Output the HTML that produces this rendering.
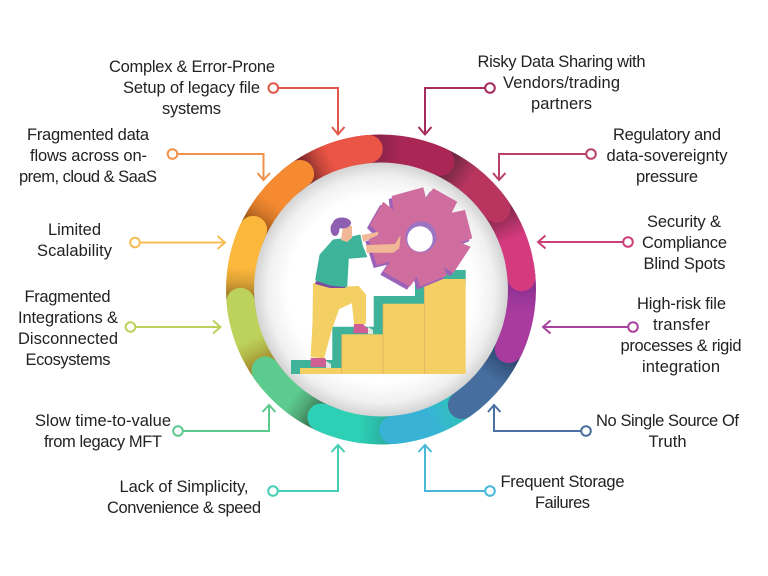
<!DOCTYPE html>
<html><head><meta charset="utf-8"><style>
html,body{margin:0;padding:0;background:#fff;width:768px;height:576px;overflow:hidden}
svg{display:block}
text{font-family:"Liberation Sans",sans-serif;font-size:16.5px;fill:#222;text-anchor:middle}
.c{fill:none;stroke-width:2}
.d{fill:#fff;stroke-width:2}
</style></head><body>
<svg width="768" height="576" viewBox="0 0 768 576" xmlns="http://www.w3.org/2000/svg">
<defs>
<radialGradient id="disc" gradientUnits="userSpaceOnUse" cx="381" cy="289.5" r="129">
<stop offset="0" stop-color="#fff"/><stop offset=".72" stop-color="#fff"/><stop offset=".88" stop-color="#f0f0f0"/><stop offset="1" stop-color="#cfcfcf"/></radialGradient>
<linearGradient id="g0" gradientUnits="userSpaceOnUse" x1="306.3" y1="169.9" x2="330.5" y2="157.9"><stop offset="0" stop-color="#7c2a2c"/><stop offset=".5" stop-color="#c04539"/><stop offset="1" stop-color="#ea5545"/></linearGradient>
<linearGradient id="g1" gradientUnits="userSpaceOnUse" x1="306.3" y1="169.9" x2="330.5" y2="157.9"><stop offset="0" stop-color="#a65a1c"/><stop offset=".5" stop-color="#d87a2a"/><stop offset="1" stop-color="#f58a30"/></linearGradient>
<linearGradient id="g2" gradientUnits="userSpaceOnUse" x1="306.3" y1="169.9" x2="330.5" y2="157.9"><stop offset="0" stop-color="#a8802a"/><stop offset=".5" stop-color="#dca235"/><stop offset="1" stop-color="#fbb83c"/></linearGradient>
<linearGradient id="g3" gradientUnits="userSpaceOnUse" x1="306.3" y1="169.9" x2="330.5" y2="157.9"><stop offset="0" stop-color="#a88a2c"/><stop offset=".5" stop-color="#b0b648"/><stop offset="1" stop-color="#bdd25a"/></linearGradient>
<linearGradient id="g4" gradientUnits="userSpaceOnUse" x1="306.3" y1="169.9" x2="330.5" y2="157.9"><stop offset="0" stop-color="#3f7a58"/><stop offset=".5" stop-color="#50aa78"/><stop offset="1" stop-color="#5ccb8e"/></linearGradient>
<linearGradient id="g5" gradientUnits="userSpaceOnUse" x1="306.3" y1="169.9" x2="330.5" y2="157.9"><stop offset="0" stop-color="#2ab0a0"/><stop offset="1" stop-color="#2dd0b4"/></linearGradient>
<linearGradient id="g6" gradientUnits="userSpaceOnUse" x1="306.3" y1="169.9" x2="330.5" y2="157.9"><stop offset="0" stop-color="#2fc0bc"/><stop offset="1" stop-color="#38b3d6"/></linearGradient>
<linearGradient id="g7" gradientUnits="userSpaceOnUse" x1="306.3" y1="169.9" x2="330.5" y2="157.9"><stop offset="0" stop-color="#2e4a72"/><stop offset="1" stop-color="#466fa0"/></linearGradient>
<linearGradient id="g8" gradientUnits="userSpaceOnUse" x1="306.3" y1="169.9" x2="330.5" y2="157.9"><stop offset="0" stop-color="#8a3090"/><stop offset="1" stop-color="#a93b9f"/></linearGradient>
<linearGradient id="g9" gradientUnits="userSpaceOnUse" x1="306.3" y1="169.9" x2="330.5" y2="157.9"><stop offset="0" stop-color="#8a2a50"/><stop offset="1" stop-color="#d63a7e"/></linearGradient>
<linearGradient id="g10" gradientUnits="userSpaceOnUse" x1="306.3" y1="169.9" x2="330.5" y2="157.9"><stop offset="0" stop-color="#6e2740"/><stop offset="1" stop-color="#b93560"/></linearGradient>
<linearGradient id="g11" gradientUnits="userSpaceOnUse" x1="306.3" y1="169.9" x2="330.5" y2="157.9"><stop offset="0" stop-color="#8a2348"/><stop offset="1" stop-color="#aa2755"/></linearGradient>
</defs>
<rect width="768" height="576" fill="#fff"/>

<circle cx="381" cy="289.5" r="129" fill="url(#disc)"/>

<g fill="none" stroke-width="28" stroke-linecap="round">
<path d="M290.4 181.5A141 141 0 0 1 368.7 149" stroke="url(#g0)"/>
<path transform="rotate(-30 381 289.5)" d="M290.4 181.5A141 141 0 0 1 368.7 149" stroke="url(#g1)"/>
<path transform="rotate(-60 381 289.5)" d="M290.4 181.5A141 141 0 0 1 368.7 149" stroke="url(#g2)"/>
<path transform="rotate(-90 381 289.5)" d="M290.4 181.5A141 141 0 0 1 368.7 149" stroke="url(#g3)"/>
<path transform="rotate(-120 381 289.5)" d="M290.4 181.5A141 141 0 0 1 368.7 149" stroke="url(#g4)"/>
<path transform="rotate(-150 381 289.5)" d="M290.4 181.5A141 141 0 0 1 368.7 149" stroke="url(#g5)"/>
<path transform="rotate(180 381 289.5)" d="M290.4 181.5A141 141 0 0 1 368.7 149" stroke="url(#g6)"/>
<path transform="rotate(150 381 289.5)" d="M290.4 181.5A141 141 0 0 1 368.7 149" stroke="url(#g7)"/>
<path transform="rotate(120 381 289.5)" d="M290.4 181.5A141 141 0 0 1 368.7 149" stroke="url(#g8)"/>
<path transform="rotate(90 381 289.5)" d="M290.4 181.5A141 141 0 0 1 368.7 149" stroke="url(#g9)"/>
<path transform="rotate(60 381 289.5)" d="M290.4 181.5A141 141 0 0 1 368.7 149" stroke="url(#g10)"/>
<path transform="rotate(30 381 289.5)" d="M290.4 181.5A141 141 0 0 1 368.7 149" stroke="url(#g11)"/>
<path d="M332.8 157A141 141 0 0 1 368.7 149" stroke="url(#g0)"/>
</g>

<!-- stairs -->
<polygon fill="#3fb39a" points="291,374 291,360 332.3,360 332.3,326.7 373.7,326.7 373.7,296 415,296 415,278 448,270 465.7,270 465.7,285 424,300 424,374"/>
<rect x="300" y="368" width="41.7" height="6" fill="#f4cf63"/>
<rect x="341.7" y="334.3" width="41.3" height="39.7" fill="#f4cf63"/>
<rect x="383" y="303.7" width="41.3" height="70.3" fill="#f4cf63"/>
<rect x="424.3" y="279" width="41.4" height="95" fill="#f4cf63"/>
<path d="M341.7 334.3V374M383 303.7V374M424.3 279V374" stroke="#dcae62" stroke-width=".7" fill="none"/>

<!-- gear -->
<polygon transform="translate(-3 3)" fill="#9b62b8" points="391.7,196 423.3,187.3 426,198.3 433.3,188.3 457.3,201.7 451.7,212.7 465,210 472.3,238.3 460.7,242.7 470.7,246.7 453.3,273.3 444,267.3 446.7,275.7 420,286.7 416.7,276.7 410,286.7 383.3,271.7 390,261.7 376.7,265 368.3,238.3 380,235 370,225 383.3,201.7 393.3,210"/>
<polygon fill="#cf6d9f" points="391.7,196 423.3,187.3 426,198.3 433.3,188.3 457.3,201.7 451.7,212.7 465,210 472.3,238.3 460.7,242.7 470.7,246.7 453.3,273.3 444,267.3 446.7,275.7 420,286.7 416.7,276.7 410,286.7 383.3,271.7 390,261.7 376.7,265 368.3,238.3 380,235 370,225 383.3,201.7 393.3,210"/>
<circle cx="421" cy="237" r="15.5" fill="#9b74c4"/>
<circle cx="420" cy="239" r="12.7" fill="#fff"/>

<!-- person -->
<polygon fill="#f0b896" points="361.7,235 378.3,231.7 378.3,235 363.3,241.7"/>
<polygon fill="#f4cf63" stroke="#f4cf63" stroke-width="2" stroke-linejoin="round" points="314,284 330,288.3 358.3,287 365,295 365,323 355,323.5 352.7,301.7 338.3,308.3 330.7,330 323.3,357.5 311.7,356 313.5,323.3"/>
<polygon fill="#7d4a9e" points="316,281 346,285 345,288 330,288 315,284"/>
<polygon fill="#3db39a" stroke="#3db39a" stroke-linejoin="round" points="315.7,280 320,255 333.3,240 346.7,238.3 360,235 362.3,245.7 366.7,256.7 348.3,258.3 346.7,286.7 330,285"/>
<polygon fill="#f0b896" points="366,245 395,244 400.7,235 399.3,248.3 393.3,252.7 366.7,252.7"/>
<polygon fill="#f0b896" points="343,226 352,226 352,238 347,242 341,240"/>
<ellipse cx="342" cy="223" rx="9" ry="5.5" fill="#8e5fb0"/>
<ellipse cx="335" cy="229" rx="4.5" ry="7" fill="#8e5fb0"/>
<polygon fill="#cf5f93" points="310.7,358 325,358 330,367 310.7,367"/>
<polygon fill="#dfe8e0" points="326,361 331,364 331,368 326,368"/>
<polygon fill="#cf5f93" points="354,324 363,324 372.7,333.3 353.3,333.3"/>
<polygon fill="#dfe8e0" points="368,327 373,330 373,334 368,334"/>

<!-- connectors -->
<g>
<path class="c" stroke="#e0594c" d="M278 88H338V134M332 127L338 134.5L344.5 127"/><circle class="d" stroke="#e0594c" cx="273.3" cy="88" r="4.8"/>
<path class="c" stroke="#f2914a" d="M177 154H263.5V180M257.5 173L263.5 180L270 173"/><circle class="d" stroke="#f2914a" cx="172.5" cy="154" r="4.8"/>
<path class="c" stroke="#f7bd55" d="M140 242.5H225M217.5 236L225 242.5L217.5 249"/><circle class="d" stroke="#f7bd55" cx="135" cy="242.5" r="4.8"/>
<path class="c" stroke="#bdd25a" d="M135 327H220.5M213 320.5L220.5 327L213 333.5"/><circle class="d" stroke="#bdd25a" cx="130.5" cy="327" r="4.8"/>
<path class="c" stroke="#5cc98f" d="M183 431H269V405.5M262.5 412L269 405L275.5 412"/><circle class="d" stroke="#5cc98f" cx="178" cy="431" r="4.8"/>
<path class="c" stroke="#45cfb5" d="M278 491H338V445M331.5 452L338 445L344.5 452"/><circle class="d" stroke="#45cfb5" cx="273" cy="491" r="4.8"/>
<path class="c" stroke="#4ab8d8" d="M485 491H425V445M418.5 452L425 445L431.5 452"/><circle class="d" stroke="#4ab8d8" cx="490" cy="491" r="4.8"/>
<path class="c" stroke="#4a6fa0" d="M581 431H494V405M488 412L494 405L500.5 412"/><circle class="d" stroke="#4a6fa0" cx="586" cy="431" r="4.8"/>
<path class="c" stroke="#a8429e" d="M628 327H543M550.5 320.5L543 327L550.5 333.5"/><circle class="d" stroke="#a8429e" cx="633" cy="327" r="4.8"/>
<path class="c" stroke="#cc4078" d="M623 242H538M545.5 235.5L538 242L545.5 248.5"/><circle class="d" stroke="#cc4078" cx="628" cy="242" r="4.8"/>
<path class="c" stroke="#b8406a" d="M586 154H499V180M493 173L499 180L505.5 173"/><circle class="d" stroke="#b8406a" cx="591" cy="154" r="4.8"/>
<path class="c" stroke="#a52c5c" d="M485 88H425V134.5M418.5 127L425 134.5L431.5 127"/><circle class="d" stroke="#a52c5c" cx="490" cy="88" r="4.8"/>
</g>

<!-- labels -->
<text x="192" y="72" textLength="166">Complex &amp; Error-Prone</text>
<text x="191.5" y="93" textLength="137">Setup of legacy file</text>
<text x="191.5" y="114" textLength="59">systems</text>
<text x="88" y="140" textLength="122">Fragmented data</text>
<text x="88.5" y="161" textLength="117">flows across on-</text>
<text x="88" y="182" textLength="138">prem, cloud &amp; SaaS</text>
<text x="74.5" y="235" textLength="53">Limited</text>
<text x="74.5" y="256" textLength="75">Scalability</text>
<text x="67.5" y="302" textLength="86">Fragmented</text>
<text x="68" y="323" textLength="100">Integrations &amp;</text>
<text x="68" y="344" textLength="100">Disconnected</text>
<text x="68" y="365" textLength="85">Ecosystems</text>
<text x="103" y="426" textLength="136">Slow time-to-value</text>
<text x="103" y="447" textLength="118">from legacy MFT</text>
<text x="184" y="492" textLength="129">Lack of Simplicity,</text>
<text x="184" y="513" textLength="154">Convenience &amp; speed</text>
<text x="561.5" y="67" textLength="168">Risky Data Sharing with</text>
<text x="561.5" y="88" textLength="117">Vendors/trading</text>
<text x="561.5" y="109" textLength="61">partners</text>
<text x="667" y="140" textLength="108">Regulatory and</text>
<text x="667" y="161" textLength="121">data-sovereignty</text>
<text x="667" y="182" textLength="62">pressure</text>
<text x="684" y="227" textLength="74">Security &amp;</text>
<text x="684.5" y="248" textLength="85">Compliance</text>
<text x="684.5" y="269" textLength="82">Blind Spots</text>
<text x="681.5" y="309" textLength="89">High-risk file</text>
<text x="681.5" y="330" textLength="57">transfer</text>
<text x="681" y="351" textLength="121">processes &amp; rigid</text>
<text x="681" y="372" textLength="78">integration</text>
<text x="667.5" y="426" textLength="143">No Single Source Of</text>
<text x="667.5" y="447" textLength="38">Truth</text>
<text x="562.5" y="487" textLength="124">Frequent Storage</text>
<text x="562.5" y="508" textLength="55">Failures</text>
</svg>
</body></html>
